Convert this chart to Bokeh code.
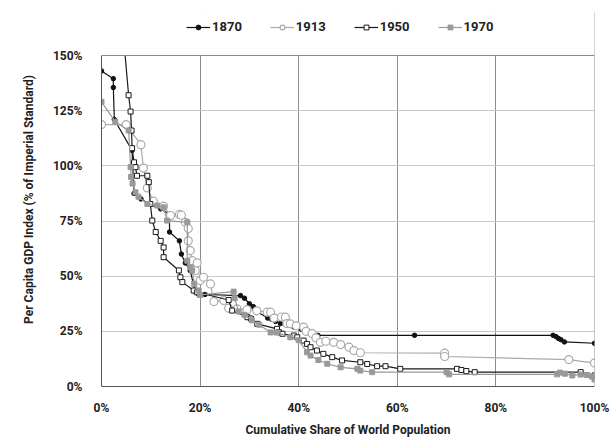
from bokeh.plotting import figure
from bokeh.models import Legend, LegendItem, FixedTicker, PrintfTickFormatter, BoxAnnotation, Span
from bokeh.embed import file_html
from bokeh.resources import INLINE

# ---- data (x: cumulative share of world population %, y: per-capita GDP index %) ----
x1870 = [0, 2.4, 2.4, 2.6, 6.2, 6.6, 8.0, 9.9, 12.0, 13.8, 13.8, 15.8, 16.2, 17.0, 18.0, 19.0,
         19.7, 21.0, 28.2, 29.0, 30.0, 30.8, 31.5, 33.7, 34.5, 35.3, 36.3, 37.5, 39.0, 40.5,
         42.0, 43.9, 63.5, 91.6, 92.2, 92.7, 93.2, 93.9, 100]
y1870 = [143, 139.5, 135.5, 121, 107, 87.5, 85, 82.5, 80.5, 78, 70, 66, 60, 56, 52.5, 43,
         41.7, 41.7, 41.2, 40, 37.5, 36.2, 34, 31, 30.5, 29.5, 28.5, 28, 27, 26,
         25, 23.2, 23.2, 23.2, 22.6, 21.8, 21.2, 20.2, 19.6]

x1913 = [0, 5.0, 8.0, 8.5, 9.3, 10.5, 12.6, 14.0, 15.8, 16.2, 17.0, 17.6, 17.6, 18.0, 18.4,
         19.0, 19.4, 20.0, 20.7, 22.1, 22.8, 24.8, 25.8, 27.5, 29.5, 31.5, 33.6, 34.3, 35.0,
         36.5, 37.3, 37.6, 38.3, 39.5, 41.0, 41.5, 42.7, 43.5, 44.4, 45.5, 47.1, 48.5, 50.2,
         51.2, 52.5, 69.6, 69.6, 94.8, 100]
y1913 = [118.7, 118.7, 109.6, 99, 90, 84, 81.7, 77.5, 78, 77.6, 74.4, 71.6, 66, 61.6, 57,
         52.6, 56, 48, 49.5, 46.5, 38.5, 39, 35.5, 35.2, 34.8, 34.3, 33.7, 33.7, 31,
         31.5, 31.4, 28.5, 28.4, 27.5, 26.9, 25, 24, 22, 20, 20.5, 20, 19, 17.8,
         16.3, 15.3, 15.1, 13.6, 12.2, 10.6]

x1950 = [4.4, 5.5, 5.9, 6.1, 6.2, 6.6, 6.9, 7.2, 9.3, 9.6, 9.9, 10.3, 11.0, 12.0, 12.6, 12.6,
         15.7, 16.0, 16.4, 18.7, 19.4, 25.8, 26.5, 29.6, 30.3, 31.6, 35.6, 36.0, 36.7, 39.0,
         39.7, 41.0, 41.7, 42.4, 43.7, 45.0, 46.8, 48.8, 52.5, 53.9, 55.9, 57.6, 60.6, 72.1,
         73.0, 74.0, 75.7, 97.2, 100]
y1950 = [160, 132, 124.6, 116, 108, 101.6, 99.4, 95.5, 95.5, 92.6, 82.7, 75.2, 70, 66, 63, 58.6,
         52.6, 49.5, 47.3, 43.5, 42.7, 39.2, 34.4, 31.4, 30.8, 28.4, 26.1, 24.6, 23.9, 23.1,
         22.3, 20.8, 19.3, 17.8, 16.3, 14.8, 13.3, 11.8, 11, 10.2, 9.2, 9.2, 8, 8,
         7.5, 7, 6.5, 6.5, 5]

x1970 = [0, 2.8, 5.5, 5.9, 6.0, 6.3, 6.9, 7.5, 9.3, 11.3, 12.6, 13.3, 17.4, 17.4, 18.0, 18.4,
         18.8, 19.7, 20.0, 26.8, 27.0, 27.8, 29.0, 30.5, 32.0, 34.3, 35.5, 38.3, 40.0, 41.7,
         42.4, 44.0, 45.8, 48.5, 51.9, 52.5, 54.9, 70.0, 70.5, 92.4, 93.0, 94.0, 95.5, 97.2,
         98.5, 99.5, 100]
y1970 = [129, 120, 116, 99.4, 95, 92, 88, 86, 82.7, 82, 81.2, 75.2, 74.4, 57, 54, 52.6,
         46.6, 43.5, 41.5, 43, 40, 34, 32.5, 30, 28, 24.5, 24.5, 22.3, 21, 15.5,
         14, 12, 10.3, 8.7, 8, 7.2, 6.5, 6.5, 5.5, 5.5, 6.3, 5.8, 5, 5.4,
         5.2, 4.5, 3.2]

x_ticks = [0, 20, 40, 60, 80, 100]
y_ticks = [0, 25, 50, 75, 100, 125, 150]
Y_MAX = 150

FONT = "Roboto"

# frame spans from the legend row down to 0%; the strip above 150% is masked white
TOP_PAD = 12
FRAME_W, FRAME_H = 493, 374
PLOT_H = 331  # pixel height of the 0..150 region
y_top = Y_MAX * FRAME_H / PLOT_H

p = figure(width=616, height=448, x_range=(0, 100), y_range=(0, y_top),
           output_backend="svg", toolbar_location=None,
           min_border_left=101, min_border_right=22, min_border_top=TOP_PAD, min_border_bottom=62)
p.frame_width = FRAME_W
p.frame_height = FRAME_H

p.background_fill_color = "white"
p.border_fill_color = "white"
p.outline_line_color = None

p.xgrid.ticker = FixedTicker(ticks=x_ticks)
p.ygrid.ticker = FixedTicker(ticks=y_ticks)
p.xgrid.grid_line_color = "#8c8c8c"
p.ygrid.grid_line_color = "#c8c8c8"

for ax, ticks in ((p.xaxis, x_ticks), (p.yaxis, y_ticks)):
    ax.ticker = FixedTicker(ticks=ticks)
    ax.formatter = PrintfTickFormatter(format="%d%%")
    ax.major_tick_line_color = None
    ax.minor_tick_line_color = None
    ax.axis_line_color = "#555555"
    ax.major_label_text_font = FONT
    ax.major_label_text_font_style = "bold"
    ax.major_label_text_font_size = "12px"
    ax.major_label_text_color = "#222222"
    ax.axis_label_text_font = FONT
    ax.axis_label_text_font_style = "bold"
    ax.axis_label_text_font_size = "12px"
    ax.axis_label_text_color = "#222222"
p.yaxis.bounds = (0, Y_MAX)

p.xaxis.axis_label = "Cumulative Share of World Population"
p.yaxis.axis_label = "Per Capita GDP Index (% of Imperial Standard)"
p.xaxis.major_label_standoff = 8
p.yaxis.major_label_standoff = 13
p.xaxis.axis_label_standoff = 5
p.yaxis.axis_label_standoff = 14

lw = 1.2
l1 = p.line(x1870, y1870, line_color="#111111", line_width=lw)
s1 = p.scatter(x1870, y1870, marker="circle", size=4.5, fill_color="#111111", line_color="#111111")

l2 = p.line(x1913, y1913, line_color="#aaaaaa", line_width=lw)
s2 = p.scatter(x1913, y1913, marker="circle", size=8, fill_color="white", line_color="#aaaaaa", line_width=1.2)

l3 = p.line(x1950, y1950, line_color="#1a1a1a", line_width=lw)
s3 = p.scatter(x1950, y1950, marker="square", size=5, fill_color="white", line_color="#1a1a1a", line_width=1)

l4 = p.line(x1970, y1970, line_color="#999999", line_width=lw)
s4 = p.scatter(x1970, y1970, marker="square", size=5, fill_color="#999999", line_color="#999999")

# right border, mask above 150 %, top border
p.add_layout(Span(location=100, dimension="height", line_color="#8a8a8a", line_width=1))
p.add_layout(BoxAnnotation(bottom=Y_MAX, fill_color="white", fill_alpha=1.0, line_color=None))
p.add_layout(Span(location=Y_MAX, dimension="width", line_color="#8a8a8a", line_width=1))

legend = Legend(items=[
    LegendItem(label="1870", renderers=[l1, s1]),
    LegendItem(label="1913", renderers=[l2, s2]),
    LegendItem(label="1950", renderers=[l3, s3]),
    LegendItem(label="1970", renderers=[l4, s4]),
], orientation="horizontal", location=(85, 352))
legend.glyph_width = 24
legend.glyph_height = 12
legend.label_standoff = 2
legend.spacing = 28
legend.padding = 0
legend.margin = 0
legend.border_line_color = None
legend.background_fill_alpha = 0
legend.label_text_font = FONT
legend.label_text_font_style = "bold"
legend.label_text_font_size = "13px"
legend.label_text_color = "#222222"
p.add_layout(legend, "center")

open("out.html", "w").write(file_html(p, INLINE))
